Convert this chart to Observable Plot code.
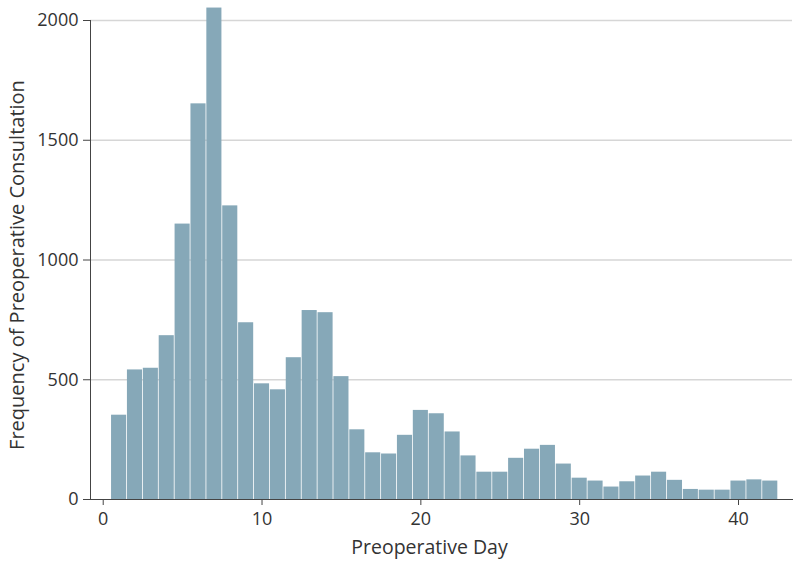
<!DOCTYPE html>
<html>
<head>
<meta charset="utf-8">
<script src="https://cdn.jsdelivr.net/npm/d3@7"></script>
<script src="https://cdn.jsdelivr.net/npm/@observablehq/plot@0.6"></script>
<style>
  html, body { margin: 0; padding: 0; background: #fff; }
  #chart svg { display: block; }
</style>
</head>
<body>
<div id="chart"></div>
<script>
// Preoperative day (1..42) and frequency of preoperative consultation
const days = [1,2,3,4,5,6,7,8,9,10,11,12,13,14,15,16,17,18,19,20,21,22,23,24,25,26,27,28,29,30,31,32,33,34,35,36,37,38,39,40,41,42];
const counts = [352,541,548,684,1150,1652,2052,1226,738,483,458,592,789,780,513,291,195,190,268,372,358,282,182,114,114,172,210,226,148,89,77,52,74,98,114,80,42,39,39,77,82,77];
const xTicks = [0,10,20,30,40];
const yTicks = [0,500,1000,1500,2000];
const xLabel = "Preoperative Day";
const yLabel = "Frequency of Preoperative Consultation";

const data = days.map((d, i) => ({day: d, count: counts[i]}));
const font = "'Open Sans', 'Noto Sans', sans-serif";
const ink = "#333";

const chart = Plot.plot({
  width: 800,
  height: 573,
  marginTop: 20,
  marginBottom: 74,
  marginLeft: 90,
  marginRight: 8,
  style: {fontFamily: font, fontSize: "18px", color: ink, background: "#fff", overflow: "visible"},
  x: {domain: [-0.8, 43.4], ticks: xTicks, label: null},
  y: {domain: [0, 2000], ticks: yTicks, label: null},
  marks: [
    Plot.gridY(yTicks.filter(d => d > 0), {stroke: "#d6d6d6", strokeOpacity: 1, strokeWidth: 1.3}),
    Plot.rectY(data, {x1: d => d.day - 0.5, x2: d => d.day + 0.5, y1: 0, y2: "count", fill: "#86a8b8", insetLeft: 0.4, insetRight: 0.4}),
    Plot.frame({anchor: "left", stroke: "#444"}),
    Plot.frame({anchor: "bottom", stroke: "#444"}),
    Plot.axisY(yTicks, {tickSize: 7, tickPadding: 5, stroke: "#444", fill: ink, fontSize: 18, tickFormat: d3.format("d"), label: null}),
    Plot.axisX(xTicks, {tickSize: 6, tickPadding: 7, stroke: "#444", fill: ink, fontSize: 18, tickFormat: d3.format("d"), label: null}),
    Plot.text([xLabel], {frameAnchor: "bottom", textAnchor: "middle", dx: -12, dy: 54, fontSize: 19.5, fill: ink}),
    Plot.text([yLabel], {frameAnchor: "left", textAnchor: "middle", rotate: -90, dx: -73, dy: 5, fontSize: 20, fill: ink})
  ]
});
document.getElementById("chart").appendChild(chart);
</script>
</body>
</html>
